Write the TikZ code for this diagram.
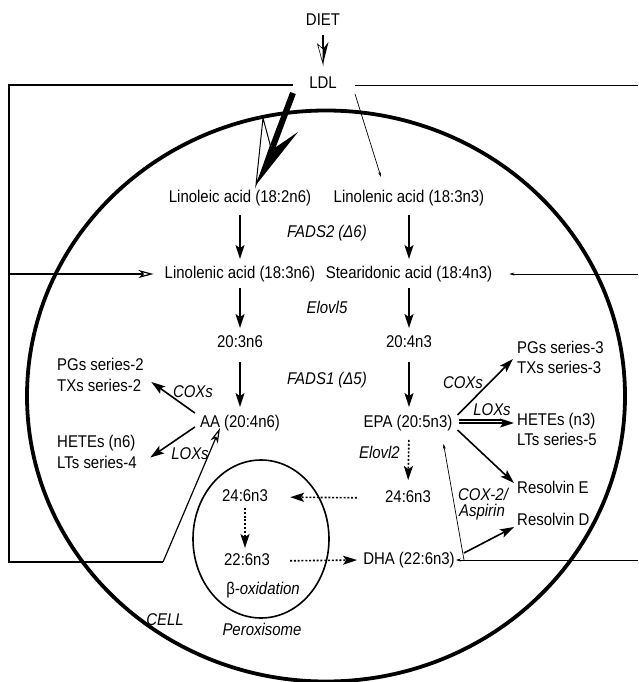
\documentclass[tikz,border=0pt]{standalone}
\usepackage{fontspec}
\setmainfont{Liberation Sans}[FakeStretch=0.88]
\usetikzlibrary{arrows.meta,calc}
\begin{document}
\begin{tikzpicture}[x=1pt,y=-1pt,
  lbl/.style={font=\fontsize{17}{20}\selectfont, inner sep=1pt, text height=12pt, text depth=3.5pt},
  enz/.style={font=\fontsize{17}{20}\selectfont\itshape, inner sep=1pt},
  arr/.style={line width=1.6pt, -{Stealth[length=14pt,width=9pt,inset=3pt]}},
  darr/.style={arr, dash pattern=on 2pt off 1.8pt},
  tarr/.style={line width=0.7pt, -{Stealth[length=5pt,width=3pt]}},
  oarr/.style={line width=1.2pt, -{Stealth[open,length=15pt,width=8pt,inset=4pt]}},
  heavy/.style={line width=1.8pt},
  light/.style={line width=0.8pt},
]
\useasboundingbox (0,0) rectangle (638,682);

% cell and peroxisome
\draw[line width=3.8pt] (326,396) ellipse [x radius=299, y radius=285.5];
\draw[line width=1.6pt] (261,539) ellipse [x radius=68, y radius=79];

% nodes
\node[lbl] (diet) at (323,21) {DIET};
\node[lbl] (ldl) at (323,84) {LDL};
\node[lbl] (la) at (240,198) {Linoleic acid (18:2n6)};
\node[lbl] (ala) at (409,198) {Linolenic acid (18:3n3)};
\node[enz] (fads2) at (327,233) {FADS2 (Δ6)};
\node[lbl] (gla) at (240,274) {Linolenic acid (18:3n6)};
\node[lbl] (sda) at (409,274) {Stearidonic acid (18:4n3)};
\node[enz] (elovl5) at (327,307) {Elovl5};
\node[lbl] (dgla) at (240,343) {20:3n6};
\node[lbl] (eta) at (409,343) {20:4n3};
\node[enz] (fads1) at (327,380) {FADS1 (Δ5)};
\node[lbl] (aa) at (240,423) {AA (20:4n6)};
\node[lbl] (epa) at (408,423) {EPA (20:5n3)};
\node[lbl,anchor=west] (pg2) at (56,366) {PGs series-2};
\node[lbl,anchor=west] (tx2) at (56,387) {TXs series-2};
\node[lbl,anchor=west] (he6) at (56,443) {HETEs (n6)};
\node[lbl,anchor=west] (lt4) at (56,464) {LTs series-4};
\node[enz] (coxl) at (193,392) {COXs};
\node[enz] (loxl) at (190,454) {LOXs};
\node[lbl,anchor=west] (pg3) at (516,349) {PGs series-3};
\node[lbl,anchor=west] (tx3) at (516,369) {TXs series-3};
\node[lbl,anchor=west] (he3) at (516,421) {HETEs (n3)};
\node[lbl,anchor=west] (lt5) at (516,441) {LTs series-5};
\node[lbl,anchor=west] (rve) at (516,489) {Resolvin E};
\node[lbl,anchor=west] (rvd) at (516,521) {Resolvin D};
\node[enz] (coxr) at (463,383) {COXs};
\node[enz] (loxr) at (492,410) {LOXs};
\node[enz,anchor=east] (elovl2) at (401,452) {Elovl2};
\node[lbl] (c24) at (408,498) {24:6n3};
\node[enz] (cox2) at (483,494) {COX-2/};
\node[enz] (asp) at (482,512) {Aspirin};
\node[lbl] (dha) at (409,560) {DHA (22:6n3)};
\node[lbl] (p24) at (245,497) {24:6n3};
\node[lbl] (p22) at (247,561) {22:6n3};
\node[enz] (box) at (263,590) {{\upshape β}-oxidation};
\node[enz] (perox) at (262,629) {Peroxisome};
\node[enz] (cell) at (165,620) {CELL};

% free-end coordinates
\coordinate (gapL) at (293,85);
\coordinate (gapR) at (355,85);
\coordinate (tl) at (9,85);
\coordinate (bl) at (9,562);
\coordinate (corner) at (163,562);
\coordinate (aain) at (220,428);
\coordinate (lmid) at (9,274);
\coordinate (tr) at (638,85);
\coordinate (rmid) at (638,274);
\coordinate (rbot) at (638,560);
\coordinate (j) at (464,560);

% bracket and side lines
\draw[heavy] (gapL) -- (tl) -- (bl) -- (corner);
\draw[oarr] (corner) -- (aain);
\draw[oarr, shorten >=10pt] (lmid) -- (gla.west);
\draw[light] (gapR) -- (tr);
\draw[tarr, shorten >=16pt] (rmid) -- (sda.east);
\draw[tarr] (rbot) -- (dha.east);

% DIET arrow (half open, half filled head)
\coordinate (dtop) at (323,35);
\coordinate (dnotch) at (323,49);
\coordinate (dtip) at (323,64);
\draw[line width=1.4pt] (dtop) -- (dnotch);
\fill (dtip) -- (328.5,42) -- (dnotch) -- cycle;
\draw[line width=0.6pt, line join=miter] (dtip) -- (317.5,44) -- (dnotch) -- cycle;

% big LDL arrow
\coordinate (bs) at (293,93);
\coordinate (bn) at (273,146);
\coordinate (btip) at (256,185);
\draw[line width=6pt] (bs) -- (bn);
\fill (btip) -- (298,132) -- (276,147) -- (270,145) -- cycle;
\draw[line width=1pt, line join=miter] (btip) -- (263,118) -- (271,148) -- cycle;

% thin LDL arrow
\coordinate (ts) at (355,94);
\coordinate (te) at (381,177);
\draw[tarr] (ts) -- (te);

% main vertical arrows
\draw[arr, shorten <=8pt, shorten >=6pt] (la.south -| dgla) -- (gla.north -| dgla);
\draw[arr, shorten <=5pt, shorten >=6pt] (gla.south -| dgla) -- (dgla.north);
\draw[arr, shorten <=10pt, shorten >=7pt] (dgla.south) -- (aa.north -| dgla);
\draw[arr, shorten <=8pt, shorten >=6pt] (ala.south -| eta) -- (sda.north -| eta);
\draw[arr, shorten <=5pt, shorten >=6pt] (sda.south -| eta) -- (eta.north);
\draw[arr, shorten <=10pt, shorten >=7pt] (eta.south) -- (epa.north -| eta);

% AA products
\draw[arr] ($(aa.west)+(-4,-10)$) -- ($(tx2.east)+(9,-5)$);
\draw[arr] ($(aa.west)+(-4,4)$) -- ($(he6.east)!0.5!(lt4.east)+(13,4)$);

% EPA products
\draw[arr] ($(epa.east)+(4,-8)$) -- ($(pg3.west)!0.5!(tx3.west)+(-3,0)$);
\draw[arr] ($(epa.east)+(5,0)$) -- ($(he3.west)+(-2,2)$);
\draw[line width=1.2pt] ($(epa.east)+(5,-3)$) -- ($(he3.west)+(-14,-1)$);
\draw[arr] ($(epa.east)+(4,7)$) -- ($(rve.west)+(-2,-6)$);

% COX-2 / aspirin and resolvin D
\draw[tarr] (j) -- ($(epa.south east)+(-10,12)$);
\draw[arr] ($(j)+(0,-7)$) -- ($(rvd.west)+(-2,6)$);

% dotted pathway
\draw[darr, shorten <=8pt, shorten >=9pt] (epa.south -| eta) -- (c24.north);
\draw[darr, shorten <=27pt, shorten >=21pt] (c24.west) -- (p24.east);
\draw[darr, shorten <=2pt, shorten >=4pt] (p24.south) -- (p22.north -| p24);
\draw[darr, shorten <=19pt, shorten >=5pt] (p22.east) -- (dha.west);
\end{tikzpicture}
\end{document}
